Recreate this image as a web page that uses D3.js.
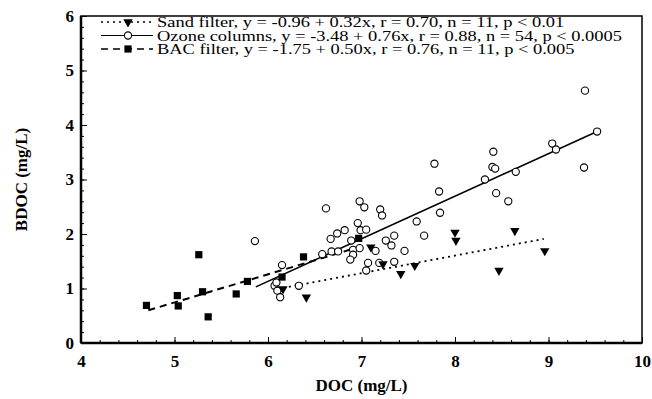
<!DOCTYPE html>
<html>
<head>
<meta charset="utf-8">
<script src="https://cdn.jsdelivr.net/npm/d3@7"></script>
<style>
  body { margin: 0; background: #fff; }
  text { font-family: "Liberation Serif", "Times New Roman", serif; fill: #000; }
</style>
</head>
<body>
<div id="chart"></div>
<script>
// data
const sandX = [6.16, 6.41, 7.10, 7.23, 7.42, 7.57, 8.00, 8.01, 8.64, 8.47, 8.96];
const sandY = [0.99, 0.84, 1.76, 1.45, 1.27, 1.42, 2.03, 1.88, 2.06, 1.33, 1.69];

const ozoneX = [5.86, 6.15, 6.07, 6.09, 6.10, 6.13, 6.33, 6.62, 6.67, 6.74, 6.82, 6.58, 6.68,
  6.75, 6.89, 6.91, 6.91, 6.88, 6.96, 6.98, 7.03, 6.99, 7.05, 6.98, 7.20, 7.22, 7.26, 7.32,
  7.35, 7.15, 7.46, 7.07, 7.19, 7.35, 7.05, 7.59, 7.67, 7.78, 7.83, 7.84, 8.41, 8.40, 8.43,
  8.32, 8.65, 8.44, 8.57, 9.04, 9.08, 9.39, 9.52, 9.38];
const ozoneY = [1.87, 1.43, 1.05, 1.11, 0.96, 0.84, 1.05, 2.47, 1.91, 2.01, 2.07, 1.63, 1.68,
  1.68, 1.88, 1.71, 1.62, 1.53, 2.20, 2.60, 2.49, 2.07, 2.08, 1.74, 2.45, 2.34, 1.88, 1.79,
  1.97, 1.69, 1.69, 1.47, 1.47, 1.49, 1.33, 2.23, 1.97, 3.29, 2.78, 2.39, 3.51, 3.23, 3.20,
  3.00, 3.14, 2.75, 2.60, 3.66, 3.55, 4.63, 3.88, 3.22];

const bacX = [4.70, 5.03, 5.04, 5.26, 5.30, 5.36, 5.66, 5.78, 6.15, 6.38, 6.97];
const bacY = [0.69, 0.87, 0.68, 1.62, 0.94, 0.48, 0.90, 1.13, 1.21, 1.58, 1.92];

// regression lines as drawn (start / end)
const sandFit = [[6.16, 1.01], [8.95, 1.91]];
const ozoneFit = [[5.87, 1.03], [9.52, 3.88]];
const bacFit = [[4.72, 0.60], [6.97, 1.76]];

const legendLabels = [
  "Sand filter, y = -0.96 + 0.32x, r = 0.70, n = 11, p < 0.01",
  "Ozone columns, y = -3.48 + 0.76x, r = 0.88, n = 54, p < 0.0005",
  "BAC filter, y = -1.75 + 0.50x, r = 0.76, n = 11, p < 0.005"
];

const margin = {top: 16, right: 10, bottom: 56, left: 81},
    width = 652 - margin.left - margin.right,
    height = 399 - margin.top - margin.bottom;

const svg = d3.select("#chart").append("svg")
    .attr("width", 652)
    .attr("height", 399);

const g = svg.append("g")
    .attr("transform", `translate(${margin.left},${margin.top})`);

const x = d3.scaleLinear().domain([4, 10]).range([0, width]);
const y = d3.scaleLinear().domain([0, 6]).range([height, 0]);

// minor ticks
g.append("g")
    .attr("transform", `translate(0,${height})`)
    .call(d3.axisBottom(x).tickValues(d3.range(4, 10.001, 0.2)).tickSize(-3).tickFormat(""))
    .call(a => a.select(".domain").remove());
g.append("g")
    .call(d3.axisLeft(y).tickValues(d3.range(0, 6.001, 0.2)).tickSize(-3).tickFormat(""))
    .call(a => a.select(".domain").remove());

// major ticks + labels
const xAxis = g.append("g")
    .attr("transform", `translate(0,${height})`)
    .call(d3.axisBottom(x).ticks(6).tickSize(-6).tickPadding(12).tickFormat(d3.format("d")));
const yAxis = g.append("g")
    .call(d3.axisLeft(y).ticks(6).tickSize(-6).tickPadding(7).tickFormat(d3.format("d")));

[xAxis, yAxis].forEach(a => {
  a.select(".domain").remove();
  a.selectAll("text")
    .style("font-size", "17px")
    .style("font-weight", "bold")
    .style("font-family", "'Liberation Serif', serif");
});

// frame
g.append("rect")
    .attr("width", width)
    .attr("height", height)
    .attr("fill", "none")
    .attr("stroke", "#000")
    .attr("stroke-width", 1.5);
g.append("line")
    .attr("x1", 0).attr("x2", width)
    .attr("y1", height).attr("y2", height)
    .attr("stroke", "#000").attr("stroke-width", 2.5);
g.append("line")
    .attr("x1", 0).attr("x2", 0)
    .attr("y1", 0).attr("y2", height)
    .attr("stroke", "#000").attr("stroke-width", 2.5);

// axis titles
svg.append("text")
    .attr("x", margin.left + x(7))
    .attr("y", 391)
    .attr("text-anchor", "middle")
    .style("font-size", "17px")
    .style("font-weight", "bold")
    .text("DOC (mg/L)");
svg.append("text")
    .attr("transform", `translate(27,${margin.top + y(3)}) rotate(-90)`)
    .attr("text-anchor", "middle")
    .style("font-size", "17px")
    .style("font-weight", "bold")
    .text("BDOC (mg/L)");

const line = d3.line().x(d => x(d[0])).y(d => y(d[1]));

const styles = [
  {fit: sandFit, dash: "2,4", width: 1.8},
  {fit: ozoneFit, dash: null, width: 1.6},
  {fit: bacFit, dash: "7,5", width: 2}
];

styles.forEach(s => {
  g.append("path")
    .attr("d", line(s.fit))
    .attr("fill", "none")
    .attr("stroke", "#000")
    .attr("stroke-width", s.width)
    .attr("stroke-dasharray", s.dash);
});

const tri = d3.symbol().type(d3.symbolTriangle).size(38);

function drawTri(sel) {
  sel.append("path")
    .attr("d", tri)
    .attr("transform", d => `translate(${d[0]},${d[1]}) rotate(180)`)
    .attr("fill", "#000");
}
function drawCircle(sel) {
  sel.append("circle")
    .attr("cx", d => d[0]).attr("cy", d => d[1])
    .attr("r", 3.6)
    .attr("fill", "#fff")
    .attr("stroke", "#000")
    .attr("stroke-width", 1.1);
}
function drawSquare(sel) {
  sel.append("rect")
    .attr("x", d => d[0] - 3.6).attr("y", d => d[1] - 3.6)
    .attr("width", 7.2).attr("height", 7.2)
    .attr("fill", "#000");
}

const ozonePts = ozoneX.map((v, i) => [x(v), y(ozoneY[i])]);
const sandPts = sandX.map((v, i) => [x(v), y(sandY[i])]);
const bacPts = bacX.map((v, i) => [x(v), y(bacY[i])]);

ozonePts.forEach(p => drawCircle(g.append("g").datum(p)));
bacPts.forEach(p => drawSquare(g.append("g").datum(p)));
sandPts.forEach(p => drawTri(g.append("g").datum(p)));

// legend
const legend = g.append("g").attr("transform", "translate(20,3)");
const markers = [drawTri, drawCircle, drawSquare];
legendLabels.forEach((lab, i) => {
  const ly = 3 + i * 13.5;
  const row = legend.append("g");
  row.append("line")
    .attr("x1", 0).attr("x2", 52)
    .attr("y1", ly).attr("y2", ly)
    .attr("stroke", "#000")
    .attr("stroke-width", styles[i].width * 0.7)
    .attr("stroke-dasharray", styles[i].dash);
  markers[i](row.append("g").datum([27, ly]));
  row.append("text")
    .attr("transform", `translate(56,${ly}) scale(1.19,1)`)
    .attr("dy", "0.35em")
    .style("font-size", "15.5px")
    .text(lab);
});
</script>
</body>
</html>
